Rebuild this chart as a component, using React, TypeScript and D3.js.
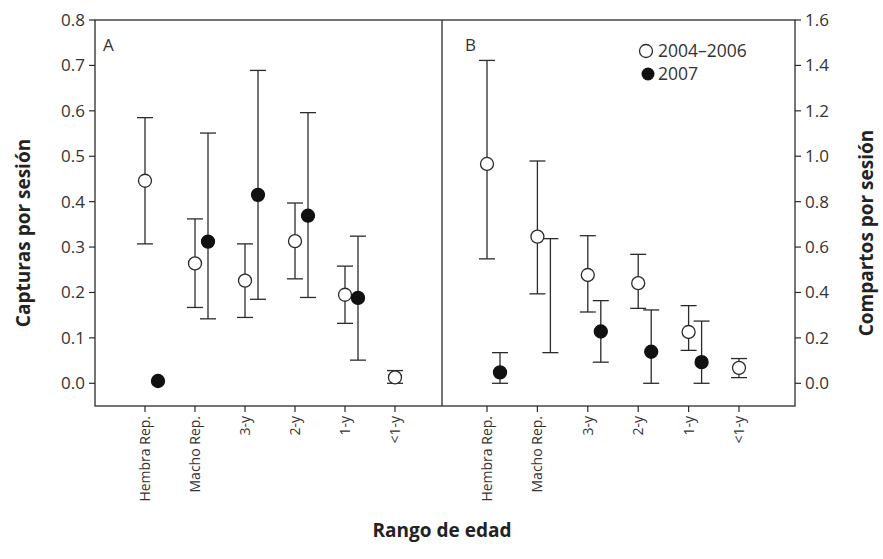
import React from "react";
import * as d3 from "d3";

const categories = ["Hembra Rep.", "Macho Rep.", "3-y", "2-y", "1-y", "<1-y"];

// Panel A – Capturas por sesión
const aOpenMean = [0.446, 0.264, 0.226, 0.313, 0.195, 0.013];
const aOpenLow = [0.307, 0.167, 0.145, 0.23, 0.132, 0.0];
const aOpenHigh = [0.585, 0.362, 0.307, 0.397, 0.258, 0.028];
const aFilledMean: (number | null)[] = [0.005, 0.312, 0.415, 0.369, 0.188, null];
const aFilledLow: (number | null)[] = [null, 0.142, 0.185, 0.189, 0.051, null];
const aFilledHigh: (number | null)[] = [null, 0.551, 0.689, 0.596, 0.324, null];

// Panel B – Compartos por sesión
const bOpenMean = [0.966, 0.646, 0.477, 0.441, 0.226, 0.068];
const bOpenLow = [0.548, 0.394, 0.314, 0.33, 0.145, 0.025];
const bOpenHigh = [1.422, 0.979, 0.65, 0.568, 0.342, 0.109];
const bFilledMean: (number | null)[] = [0.048, null, 0.228, 0.139, 0.093, null];
const bFilledLow: (number | null)[] = [0.0, 0.135, 0.093, 0.0, 0.0, null];
const bFilledHigh: (number | null)[] = [0.135, 0.637, 0.364, 0.323, 0.274, null];

const leftTicks = [0, 0.1, 0.2, 0.3, 0.4, 0.5, 0.6, 0.7, 0.8];
const rightTicks = [0, 0.2, 0.4, 0.6, 0.8, 1.0, 1.2, 1.4, 1.6];
const seriesLabels = ["2004\u20132006", "2007"];

const W = 883;
const H = 559;
const frameL = 95;
const frameR = 795;
const divider = 442;
const frameTop = 20;
const frameBottom = 406;
const ink = "#2b2b2b";
const font = "'Open Sans', 'Noto Sans', sans-serif";
const OFFSET = 13;
const CAP = 8;
const R = 6.5;

const yA = d3.scaleLinear().domain([-0.05, 0.8]).range([frameBottom, frameTop]);
const yB = d3.scaleLinear().domain([-0.1, 1.6]).range([frameBottom, frameTop]);
const xA = d3.scalePoint<string>().domain(categories).range([145, 395]);
const xB = d3.scalePoint<string>().domain(categories).range([487, 739]);

type Pt = { x: number; mean: number | null; low: number | null; high: number | null; filled: boolean };

function buildPoints(
  x: d3.ScalePoint<string>,
  oM: number[], oL: number[], oH: number[],
  fM: (number | null)[], fL: (number | null)[], fH: (number | null)[]
): Pt[] {
  const pts: Pt[] = [];
  categories.forEach((c, i) => {
    const cx = x(c) as number;
    pts.push({ x: cx, mean: oM[i], low: oL[i], high: oH[i], filled: false });
    pts.push({ x: cx + OFFSET, mean: fM[i], low: fL[i], high: fH[i], filled: true });
  });
  return pts;
}

function Panel({ pts, y }: { pts: Pt[]; y: d3.ScaleLinear<number, number> }) {
  return (
    <g>
      {pts.map((p, i) =>
        p.low != null && p.high != null ? (
          <g key={"e" + i} stroke={ink} strokeWidth={1.3}>
            <line x1={p.x} x2={p.x} y1={y(p.low)} y2={y(p.high)} />
            <line x1={p.x - CAP} x2={p.x + CAP} y1={y(p.low)} y2={y(p.low)} />
            <line x1={p.x - CAP} x2={p.x + CAP} y1={y(p.high)} y2={y(p.high)} />
          </g>
        ) : null
      )}
      {pts.map((p, i) =>
        p.mean != null ? (
          <circle
            key={"c" + i}
            cx={p.x}
            cy={y(p.mean)}
            r={R}
            fill={p.filled ? "#111" : "#fff"}
            stroke={p.filled ? "#111" : ink}
            strokeWidth={1.3}
          />
        ) : null
      )}
    </g>
  );
}

export default function App() {
  const ptsA = buildPoints(xA, aOpenMean, aOpenLow, aOpenHigh, aFilledMean, aFilledLow, aFilledHigh);
  const ptsB = buildPoints(xB, bOpenMean, bOpenLow, bOpenHigh, bFilledMean, bFilledLow, bFilledHigh);

  return (
    <svg
      width={W}
      height={H}
      viewBox={`0 0 ${W} ${H}`}
      style={{ position: "absolute", left: 0, top: 0, background: "#fff" }}
      fontFamily={font}
    >
      <rect x={0} y={0} width={W} height={H} fill="#fff" />
      {/* frame */}
      <rect x={frameL} y={frameTop} width={frameR - frameL} height={frameBottom - frameTop} fill="none" stroke={ink} strokeWidth={1.3} />
      <line x1={divider} x2={divider} y1={frameTop} y2={frameBottom} stroke={ink} strokeWidth={1.3} />

      {/* left axis */}
      {leftTicks.map((t) => (
        <g key={"l" + t}>
          <line x1={frameL - 6} x2={frameL} y1={yA(t)} y2={yA(t)} stroke={ink} strokeWidth={1.2} />
          <text x={frameL - 10} y={yA(t)} dy="0.35em" textAnchor="end" fontSize={17} fill="#333">
            {d3.format(".1f")(t)}
          </text>
        </g>
      ))}
      {/* right axis */}
      {rightTicks.map((t) => (
        <g key={"r" + t}>
          <line x1={frameR} x2={frameR + 6} y1={yB(t)} y2={yB(t)} stroke={ink} strokeWidth={1.2} />
          <text x={frameR + 10} y={yB(t)} dy="0.35em" textAnchor="start" fontSize={17} fill="#333">
            {d3.format(".1f")(t)}
          </text>
        </g>
      ))}

      {/* bottom ticks */}
      {[xA, xB].map((x, k) =>
        categories.map((c) => {
          const cx = x(c) as number;
          return (
            <g key={k + c}>
              <line x1={cx} x2={cx} y1={frameBottom} y2={frameBottom + 6} stroke={ink} strokeWidth={1.2} />
              <text
                transform={`translate(${cx},${frameBottom + 10}) rotate(-90)`}
                dy="0.35em"
                textAnchor="end"
                fontSize={14}
                fill="#333"
              >
                {c}
              </text>
            </g>
          );
        })
      )}

      {/* panel labels */}
      <text x={103} y={51} fontSize={17} fill="#333">A</text>
      <text x={465} y={51} fontSize={17} fill="#333">B</text>

      <Panel pts={ptsA} y={yA} />
      <Panel pts={ptsB} y={yB} />

      {/* legend */}
      <circle cx={646} cy={51} r={R} fill="#fff" stroke={ink} strokeWidth={1.3} />
      <text x={658} y={51} dy="0.35em" fontSize={17.5} fill="#333">{seriesLabels[0]}</text>
      <circle cx={648} cy={74} r={R} fill="#111" />
      <text x={658} y={74} dy="0.35em" fontSize={17.5} fill="#333">{seriesLabels[1]}</text>

      {/* axis titles */}
      <text
        transform={`translate(30,${(frameTop + frameBottom) / 2 + 20}) rotate(-90)`}
        textAnchor="middle"
        fontSize={19}
        fontWeight="bold"
        fill="#222"
      >
        Capturas por sesión
      </text>
      <text
        transform={`translate(873,${(frameTop + frameBottom) / 2 + 20}) rotate(-90)`}
        textAnchor="middle"
        fontSize={19}
        fontWeight="bold"
        fill="#222"
      >
        Compartos por sesión
      </text>
      <text x={divider} y={537} textAnchor="middle" fontSize={19} fontWeight="bold" fill="#222">
        Rango de edad
      </text>
    </svg>
  );
}
